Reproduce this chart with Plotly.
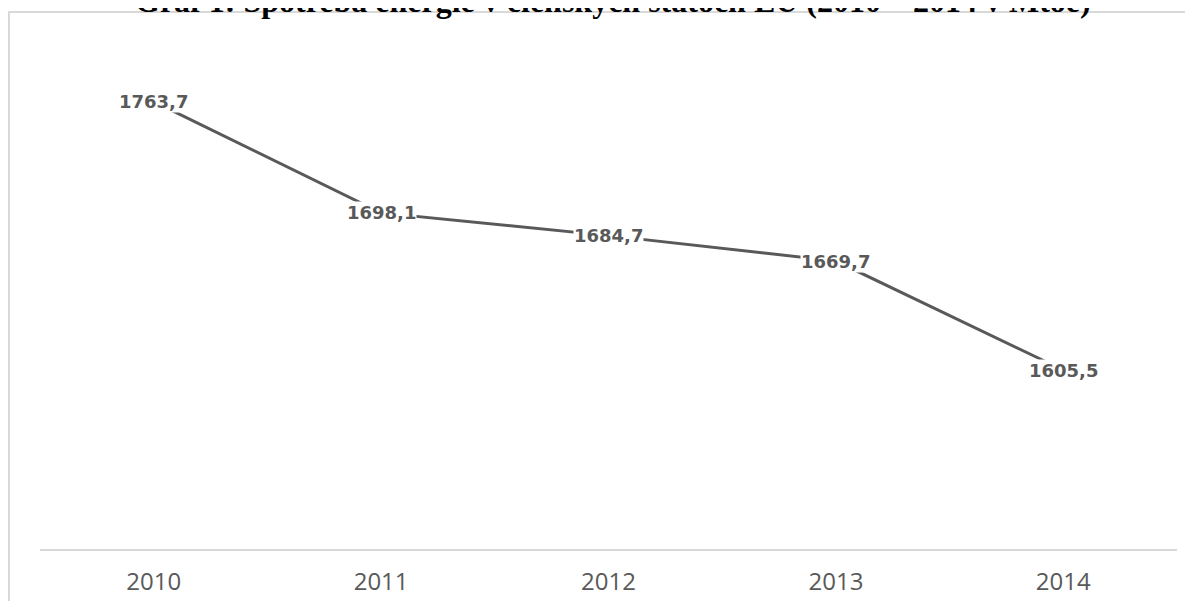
import plotly.graph_objects as go

# Daten
roky = ["2010", "2011", "2012", "2013", "2014"]
spotreba = [1763.7, 1698.1, 1684.7, 1669.7, 1605.5]
popisky = ["1763,7", "1698,1", "1684,7", "1669,7", "1605,5"]

sivá = "#595959"

fig = go.Figure()

fig.add_trace(go.Scatter(x=roky, y=spotreba,
                         mode="lines",
                         line=dict(color=sivá, width=3),
                         hoverinfo="skip",
                         showlegend=False))

# Popisky hodnôt s bielym pozadím (x ako index kategórie)
for i, (hodnota, text) in enumerate(zip(spotreba, popisky)):
    fig.add_annotation(x=i, y=hodnota, xref="x", yref="y", text=text, showarrow=False,
                       font=dict(family="DejaVu Sans", size=18, color=sivá, weight="bold"),
                       bgcolor="white", borderpad=0,
                       xanchor="center", yanchor="middle")

# Nadpis (zhora orezaný ako v predlohe)
fig.add_annotation(text="<b>Graf 1: Spotreba energie v členských štátoch EÚ (2010 – 2014 v Mtoe)</b>",
                   xref="paper", yref="paper", x=0.504, y=1 + 19 / 509,
                   xanchor="center", yanchor="bottom", showarrow=False,
                   font=dict(family="Liberation Serif", size=32, color="black"))

# Rámček grafu
fig.add_shape(type="rect", xref="paper", yref="paper",
              x0=-31 / 1137, x1=1.2, y0=-0.3, y1=1 + 28 / 509,
              line=dict(color="#d9d9d9", width=2), fillcolor="rgba(0,0,0,0)",
              layer="below")

fig.update_layout(
    width=1193, height=601,
    margin=dict(l=32, r=24, t=32, b=60),
    paper_bgcolor="white", plot_bgcolor="white",
)

fig.update_xaxes(type="category", range=[-0.5, 4.5], automargin=False,
                 showgrid=False, showline=True, linecolor="#d9d9d9", linewidth=1.5,
                 ticks="", ticklabelstandoff=10,
                 tickfont=dict(family="Open Sans", size=24, color=sivá))
fig.update_yaxes(range=[1500, 1800], visible=False, showgrid=False, zeroline=False,
                 automargin=False)

fig.write_html("out.html")
